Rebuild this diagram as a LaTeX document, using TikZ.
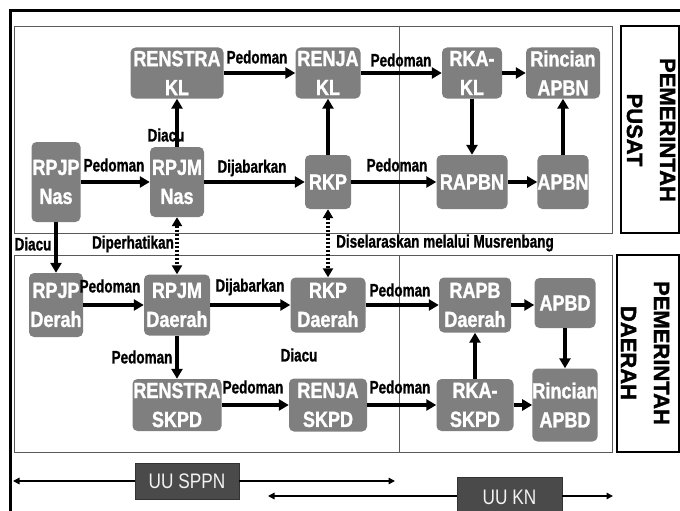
\documentclass[tikz,border=0pt]{standalone}
\usepackage{fontspec}
\setmainfont{Liberation Sans}
\newfontfamily\narrowf[FakeStretch=0.82,FakeBold=1.2]{Liberation Sans}
\newfontfamily\labf[FakeStretch=0.75,FakeBold=1.0]{Liberation Sans}
\newfontfamily\uuf[FakeStretch=0.82]{Liberation Sans}
\newfontfamily\sidef[FakeBold=1.6]{Liberation Sans}
\usetikzlibrary{arrows.meta}
\definecolor{boxgray}{HTML}{7F7F7F}
\definecolor{panelgray}{HTML}{5A5A5A}
\definecolor{uugray}{HTML}{4A4A4A}
\begin{document}
\begin{tikzpicture}[x=1pt,y=-1pt,
  blk/.style={fill=boxgray, rounded corners=5pt, text=white, align=center, inner sep=0pt,
    font=\narrowf\bfseries\fontsize{22}{29}\selectfont},
  lab/.style={font=\labf\bfseries\fontsize{18}{20}\selectfont, inner sep=0pt},
  arr/.style={line width=3.3pt, -{Triangle[length=10pt,width=11pt]}},
  darr/.style={line width=3.3pt, dash pattern=on 2.6pt off 1.4pt,
    {Triangle[length=9pt,width=10pt]}-{Triangle[length=9pt,width=10pt]}},
  panel/.style={draw=panelgray, line width=0.9pt},
  sidebox/.style={draw=black, line width=1.3pt, inner sep=0pt},
  sidetext/.style={rotate=-90, align=center, font=\sidef\bfseries\fontsize{22}{33}\selectfont},
  uubox/.style={draw=black!80, fill=uugray, text=white!95!black, line width=0.6pt, inner sep=0pt,
    font=\uuf\fontsize{21}{24}\selectfont},
  thinarr/.style={line width=1.5pt, -{Triangle[length=6.5pt,width=6.5pt]}}
]
\useasboundingbox (0,0) rectangle (680,511);
% frame
\draw[line width=3pt] (10,513) -- (10,10.5) -- (682,10.5);
% panels
\draw[panel] (14,26) rectangle (612,233);
\draw[panel] (14,255) rectangle (612,452);
\draw[panel] (399,26) -- (399,233);
\draw[panel] (399,255) -- (399,452);
% side boxes
\node[sidebox, minimum width=58pt, minimum height=207pt] (pusatbox) at (650,129.5) {};
\node[sidetext] (pusat) at (651,130) {PEMERINTAH\\PUSAT};
\node[sidebox, minimum width=62pt, minimum height=197pt] (daerahbox) at (648,353.5) {};
\node[sidetext] (daerah) at (645,353) {PEMERINTAH\\DAERAH};

% top nodes
\node[blk, minimum width=93pt, minimum height=51pt] (renstrakl) at (177,73) {RENSTRA\\KL};
\node[blk, minimum width=65pt, minimum height=51pt] (renjakl) at (328,73) {RENJA\\KL};
\node[blk, minimum width=60pt, minimum height=51pt] (rkakl) at (472,73) {RKA-\\KL};
\node[blk, minimum width=74pt, minimum height=51pt] (rincianapbn) at (563,73) {Rincian\\APBN};
\node[blk, minimum width=49pt, minimum height=80pt] (rpjpnas) at (56,182) {RPJP\\Nas};
\node[blk, minimum width=54pt, minimum height=70pt] (rpjmnas) at (177,182) {RPJM\\Nas};
\node[blk, minimum width=46pt, minimum height=54pt] (rkp) at (328,182) {RKP};
\node[blk, minimum width=71pt, minimum height=54pt] (rapbn) at (472,182) {RAPBN};
\node[blk, minimum width=50pt, minimum height=54pt] (apbn) at (563,182) {APBN};

% bottom nodes
\node[blk, minimum width=54pt, minimum height=64pt] (rpjpderah) at (56,305) {RPJP\\Derah};
\node[blk, minimum width=66pt, minimum height=61pt] (rpjmdaerah) at (177,305) {RPJM\\Daerah};
\node[blk, minimum width=75pt, minimum height=55pt] (rkpdaerah) at (328,305) {RKP\\Daerah};
\node[blk, minimum width=72pt, minimum height=55pt] (rapbdaerah) at (475,305) {RAPB\\Daerah};
\node[blk, minimum width=61pt, minimum height=50pt] (apbd) at (565,303) {APBD};
\node[blk, minimum width=89pt, minimum height=52pt] (renstraskpd) at (177,405) {RENSTRA\\SKPD};
\node[blk, minimum width=78pt, minimum height=53pt] (renjaskpd) at (328,405) {RENJA\\SKPD};
\node[blk, minimum width=77pt, minimum height=52pt] (rkaskpd) at (475,405) {RKA-\\SKPD};
\node[blk, minimum width=65pt, minimum height=73pt] (rincianapbd) at (565,405) {Rincian\\APBD};

% top arrows
\draw[arr] (renstrakl) -- (renjakl);
\draw[arr] (renjakl) -- (rkakl);
\draw[arr] (rkakl) -- (rincianapbn);
\draw[arr] (rkakl) -- (rapbn);
\draw[arr] (apbn) -- (rincianapbn);
\draw[arr] (rapbn) -- (apbn);
\draw[arr] (rkp) -- (rapbn);
\draw[arr] (rkp) -- (renjakl);
\draw[arr] (rpjmnas) -- (renstrakl);
\draw[arr] (rpjpnas) -- (rpjmnas);
\draw[arr] (rpjmnas) -- (rkp);
\draw[arr] (rpjpnas) -- (rpjpderah);
\draw[darr] (rpjmnas) -- (rpjmdaerah);
\draw[darr] (rkp) -- (rkpdaerah);

% bottom arrows
\draw[arr] (rpjpderah) -- (rpjmdaerah);
\draw[arr] (rpjmdaerah) -- (rkpdaerah);
\draw[arr] (rkpdaerah) -- (rapbdaerah);
\draw[arr] (rapbdaerah.east) -- (apbd.west |- rapbdaerah.east);
\draw[arr] (apbd) -- (rincianapbd);
\draw[arr] (rkaskpd) -- (rapbdaerah);
\draw[arr] (rkaskpd) -- (rincianapbd);
\draw[arr] (renjaskpd) -- (rkaskpd);
\draw[arr] (renstraskpd) -- (renjaskpd);
\draw[arr] (rpjmdaerah) -- (renstraskpd);

% labels
\node[lab] (l1) at (257,57) {Pedoman};
\node[lab] (l2) at (401,60) {Pedoman};
\node[lab] (l3) at (166,135) {Diacu};
\node[lab] (l4) at (114,165) {Pedoman};
\node[lab] (l5) at (252,168) {Dijabarkan};
\node[lab] (l6) at (397,165) {Pedoman};
\node[lab] (l7) at (33,244) {Diacu};
\node[lab] (l8) at (133,244) {Diperhatikan};
\node[lab, anchor=west] (l9) at (336,243) {Diselaraskan melalui Musrenbang};
\node[lab] (l10) at (110,286) {Pedoman};
\node[lab] (l11) at (250,287) {Dijabarkan};
\node[lab] (l12) at (400,290) {Pedoman};
\node[lab] (l13) at (142,357) {Pedoman};
\node[lab] (l14) at (299,355) {Diacu};
\node[lab] (l15) at (253,387) {Pedoman};
\node[lab] (l16) at (400,387) {Pedoman};

% UU boxes
\node[uubox, minimum width=104pt, minimum height=36pt] (uusppn) at (187,481) {UU SPPN};
\node[uubox, minimum width=105pt, minimum height=40pt] (uukn) at (509.5,497) {UU KN};
\coordinate (s1) at (13,481);
\coordinate (s2) at (395,481);
\coordinate (k1) at (268,496);
\coordinate (k2) at (613,496);
\draw[thinarr] (uusppn.west) -- (s1);
\draw[thinarr] (uusppn.east) -- (s2);
\draw[thinarr] (uukn.west |- k1) -- (k1);
\draw[thinarr] (uukn.east |- k2) -- (k2);
\end{tikzpicture}
\end{document}
